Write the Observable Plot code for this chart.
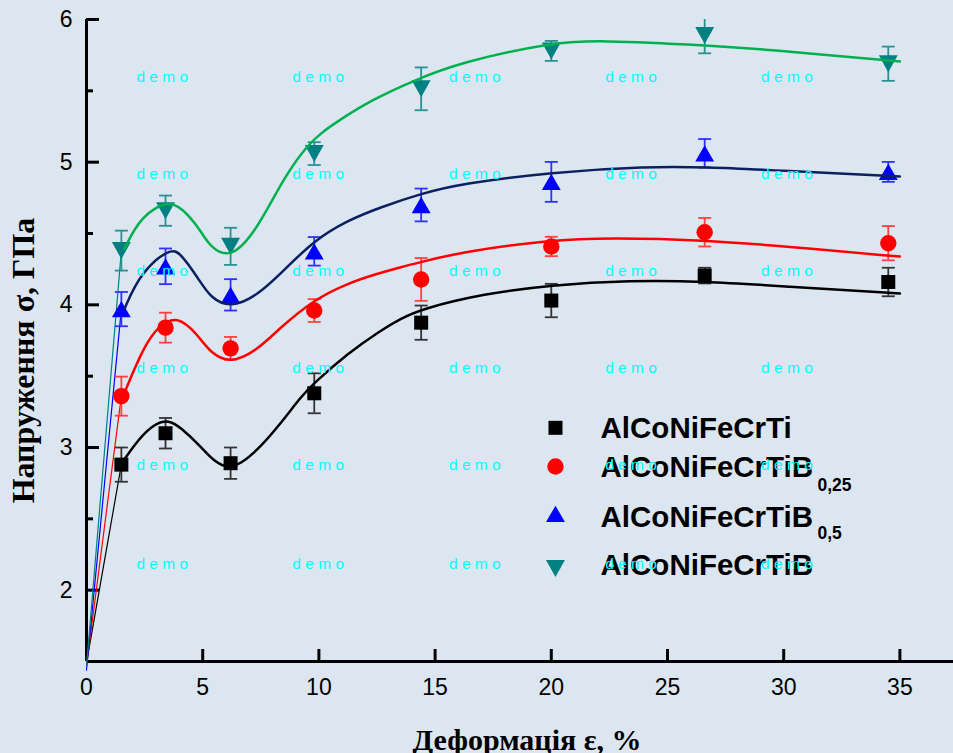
<!DOCTYPE html>
<html><head><meta charset="utf-8">
<script src="https://cdn.jsdelivr.net/npm/d3@7"></script>
<script src="https://cdn.jsdelivr.net/npm/@observablehq/plot@0.6"></script>
<style>
html,body{margin:0;padding:0;background:#dce6f1;}
#chart{width:953px;height:753px;overflow:hidden;}
</style>
</head><body><div id="chart"></div>
<script>
// ---------- data ----------
const strain = [1.5, 3.4, 6.2, 9.8, 14.4, 20, 26.6, 34.5];
const seriesNames = ["AlCoNiFeCrTi", "AlCoNiFeCrTiB", "AlCoNiFeCrTiB", "AlCoNiFeCrTiB"];
const seriesSubs = ["", "0,25", "0,5", ""];

const stressTi   = [2.88, 3.10, 2.89, 3.38, 3.875, 4.03, 4.205, 4.16];
const errTi      = [0.12, 0.107, 0.11, 0.14, 0.12, 0.117, 0.055, 0.10];
const stressB025 = [3.36, 3.84, 3.695, 3.96, 4.178, 4.409, 4.509, 4.432];
const errB025    = [0.137, 0.105, 0.08, 0.08, 0.15, 0.068, 0.10, 0.12];
const stressB05  = [3.97, 4.27, 4.07, 4.375, 4.70, 4.862, 5.062, 4.932];
const errB05     = [0.12, 0.125, 0.11, 0.10, 0.115, 0.14, 0.10, 0.07];
const stressB1   = [4.38, 4.66, 4.41, 5.06, 5.514, 5.78, 5.888, 5.69];
const errB1      = [0.14, 0.106, 0.13, 0.08, 0.15, 0.07, 0.125, 0.12];

// fitted curves
const fitTiX   = [1.6, 2.25, 2.9, 3.55, 4.05, 4.9, 5.5, 6.2, 7.2, 8.35, 9.21, 9.78, 11.22, 12.65, 13.51, 14.4, 17, 20, 23.4, 26.6, 30, 35];
const fitTiY   = [2.91, 3.06, 3.165, 3.195, 3.14, 3.01, 2.9, 2.84, 2.95, 3.166, 3.353, 3.45, 3.657, 3.82, 3.902, 3.97, 4.075, 4.14, 4.172, 4.165, 4.13, 4.08];
const fitB025X = [1.65, 2.47, 3.11, 3.9, 4.76, 5.34, 6.2, 7.34, 8.35, 9.78, 11.22, 12.5, 13.51, 14.37, 16.09, 20, 22.6, 26.6, 30, 35];
const fitB025Y = [3.39, 3.71, 3.855, 3.925, 3.797, 3.66, 3.588, 3.68, 3.843, 4.035, 4.15, 4.218, 4.264, 4.299, 4.369, 4.457, 4.47, 4.455, 4.41, 4.338];
const fitB05X  = [1.635, 2.32, 3.6, 4.05, 4.83, 5.34, 6.2, 7.34, 8.35, 9.78, 11.22, 12.65, 14.37, 16.09, 20, 24.15, 26.6, 30, 35];
const fitB05Y  = [3.972, 4.225, 4.4, 4.362, 4.18, 4.048, 3.978, 4.065, 4.218, 4.451, 4.591, 4.684, 4.778, 4.848, 4.93, 4.97, 4.966, 4.94, 4.90];
const fitB1X   = [1.635, 2.32, 3.65, 4.475, 4.905, 5.34, 6.2, 7.2, 8.06, 8.63, 9.5, 10.1, 10.79, 12.22, 14.08, 16.09, 20, 22, 26.66, 30, 35];
const fitB1Y   = [4.393, 4.62, 4.752, 4.611, 4.521, 4.4, 4.325, 4.498, 4.754, 4.92, 5.117, 5.205, 5.285, 5.432, 5.572, 5.70, 5.838, 5.855, 5.82, 5.78, 5.705];

// start of the thin elastic lines at zero strain
const elasticStartY = [1.49, 1.47, 1.44, 1.47];

// axis ticks
const xTicks = [0, 5, 10, 15, 20, 25, 30, 35];
const yTicks = [2, 3, 4, 5, 6];
const yMinorTicks = [2.5, 3.5, 4.5, 5.5];
const xLabel = "Деформація ε, %";
const yLabel = "Напруження σ, ГПа";

// watermark grid
const wmX = [3.26, 9.97, 16.71, 23.43, 30.14];
const wmY = [5.596, 4.918, 4.235, 3.555, 2.874, 2.185];

// ---------- styles ----------
const W = 953, H = 753, ML = 86, MR = 0, MT = 19, MB = 92;
const innerW = W - ML - MR, innerH = H - MT - MB;

const upTri = {draw(ctx, size) { const r = Math.sqrt(size / Math.PI); const s = 2.7 * r, h = s * 0.866;
  ctx.moveTo(0, -h / 2); ctx.lineTo(s / 2, h / 2); ctx.lineTo(-s / 2, h / 2); ctx.closePath(); }};
const downTri = {draw(ctx, size) { const r = Math.sqrt(size / Math.PI); const s = 2.7 * r, h = s * 0.9;
  ctx.moveTo(0, h / 2); ctx.lineTo(s / 2, -h / 2); ctx.lineTo(-s / 2, -h / 2); ctx.closePath(); }};
const capSym = {draw(ctx, size) { const r = Math.sqrt(size / Math.PI); ctx.moveTo(-r, 0); ctx.lineTo(r, 0); }};

const styles = [
  {symbol: "square", r: 7.9, fill: "#000000", err: "#333333", curve: "#000000", thin: "#000000"},
  {symbol: "circle", r: 8.2, fill: "#ff0000", err: "#ff4040", curve: "#ff0000", thin: "#ff0000"},
  {symbol: upTri,   r: 7.0, fill: "#0000ff", err: "#3030ff", curve: "#0a2060", thin: "#0000ff"},
  {symbol: downTri, r: 7.0, fill: "#008080", err: "#2a9090", curve: "#00b050", thin: "#008080"}
];
const stressArr = [stressTi, stressB025, stressB05, stressB1];
const errArr = [errTi, errB025, errB05, errB1];
const fitXArr = [fitTiX, fitB025X, fitB05X, fitB1X];
const fitYArr = [fitTiY, fitB025Y, fitB05Y, fitB1Y];

const legendSymY = [3.138, 2.867, 2.535, 2.152];
const legendTxtY = [3.133, 2.862, 2.511, 2.173];
const legendSubY = [0, 2.734, 2.397, 0];

const marks = [];

// axes
marks.push(Plot.ruleY([1.5], {stroke: "black", strokeWidth: 3}));
marks.push(Plot.ruleX([0], {stroke: "black", strokeWidth: 3}));
marks.push(Plot.tickY(yTicks, {y: d => d, insetRight: innerW - 13, stroke: "black", strokeWidth: 3}));
marks.push(Plot.tickY(yMinorTicks, {y: d => d, insetRight: innerW - 7, stroke: "black", strokeWidth: 3}));
marks.push(Plot.tickX(xTicks.slice(1), {x: d => d, insetTop: innerH - 12, stroke: "black", strokeWidth: 3}));
marks.push(Plot.axisY(yTicks, {tickSize: 0, tickPadding: 14, fontSize: 23, label: null, fill: "black", tickFormat: d3.format("d")}));
marks.push(Plot.axisX(xTicks, {tickSize: 0, tickPadding: 17, fontSize: 23, label: null, fill: "black", tickFormat: d3.format("d")}));

// axis titles
marks.push(Plot.text([xLabel], {text: d => d, frameAnchor: "bottom", dy: 67, dx: 7, lineAnchor: "top", textAnchor: "middle",
  fontFamily: "Liberation Serif", fontWeight: "bold", fontSize: 30, fill: "black"}));
marks.push(Plot.text([yLabel], {text: d => d, frameAnchor: "left", rotate: -90, dx: -63, dy: 20, lineAnchor: "middle", textAnchor: "middle",
  fontFamily: "Liberation Serif", fontWeight: "bold", fontSize: 32, fill: "black"}));

// thin elastic lines
styles.forEach((s, i) => {
  const pts = [{x: 0, y: elasticStartY[i]}, {x: strain[0], y: stressArr[i][0]}];
  marks.push(Plot.line(pts, {x: "x", y: "y", stroke: s.thin, strokeWidth: 1.2}));
});

// error bars + markers
styles.forEach((s, i) => {
  const pts = strain.map((x, j) => ({x, y: stressArr[i][j], e: errArr[i][j]}));
  marks.push(Plot.ruleX(pts, {x: "x", y1: d => d.y - d.e, y2: d => d.y + d.e, stroke: s.err, strokeWidth: 1.8, clip: true}));
  marks.push(Plot.dot(pts, {x: "x", y: d => d.y - d.e, symbol: capSym, r: 6.5, stroke: s.err, fill: "none", strokeWidth: 1.8, clip: true}));
  marks.push(Plot.dot(pts, {x: "x", y: d => d.y + d.e, symbol: capSym, r: 6.5, stroke: s.err, fill: "none", strokeWidth: 1.8, clip: true}));
  marks.push(Plot.dot(pts, {x: "x", y: "y", symbol: s.symbol, r: s.r, fill: s.fill, stroke: "none"}));
});

// fitted curves
styles.forEach((s, i) => {
  const pts = fitXArr[i].map((x, j) => ({x, y: fitYArr[i][j]}));
  marks.push(Plot.line(pts, {x: "x", y: "y", curve: "basis", stroke: s.curve, strokeWidth: 2.5}));
});

// legend
styles.forEach((s, i) => {
  marks.push(Plot.dot([seriesNames[i]], {x: () => 20.18, y: () => legendSymY[i], symbol: s.symbol, r: s.r, fill: s.fill, stroke: "none"}));
  marks.push(Plot.text([seriesNames[i]], {x: () => 22.12, y: () => legendTxtY[i], text: d => d, textAnchor: "start",
    fontFamily: "Liberation Sans", fontWeight: "bold", fontSize: 29.5, fill: "black"}));
  if (seriesSubs[i]) {
    marks.push(Plot.text([seriesSubs[i]], {x: () => 31.45, y: () => legendSubY[i], text: d => d, textAnchor: "start",
      fontFamily: "Liberation Sans", fontWeight: "bold", fontSize: 17.5, fill: "black"}));
  }
});

// watermark
const wm = wmY.flatMap(y => wmX.map(x => ({x, y})));
marks.push(Plot.text(wm, {x: "x", y: "y", text: () => "d e m o", fontSize: 15.5, fill: "#00ffff",
  fontFamily: "Liberation Sans"}));

const chart = Plot.plot({
  width: W, height: H,
  marginLeft: ML, marginRight: MR, marginTop: MT, marginBottom: MB,
  style: {background: "#dce6f1", fontFamily: "Liberation Sans, Arial, sans-serif", color: "black", overflow: "visible"},
  x: {domain: [0, (W - ML - MR) / 23.24]},
  y: {domain: [1.5, 6]},
  marks
});
document.getElementById("chart").appendChild(chart);
</script>
</body></html>
